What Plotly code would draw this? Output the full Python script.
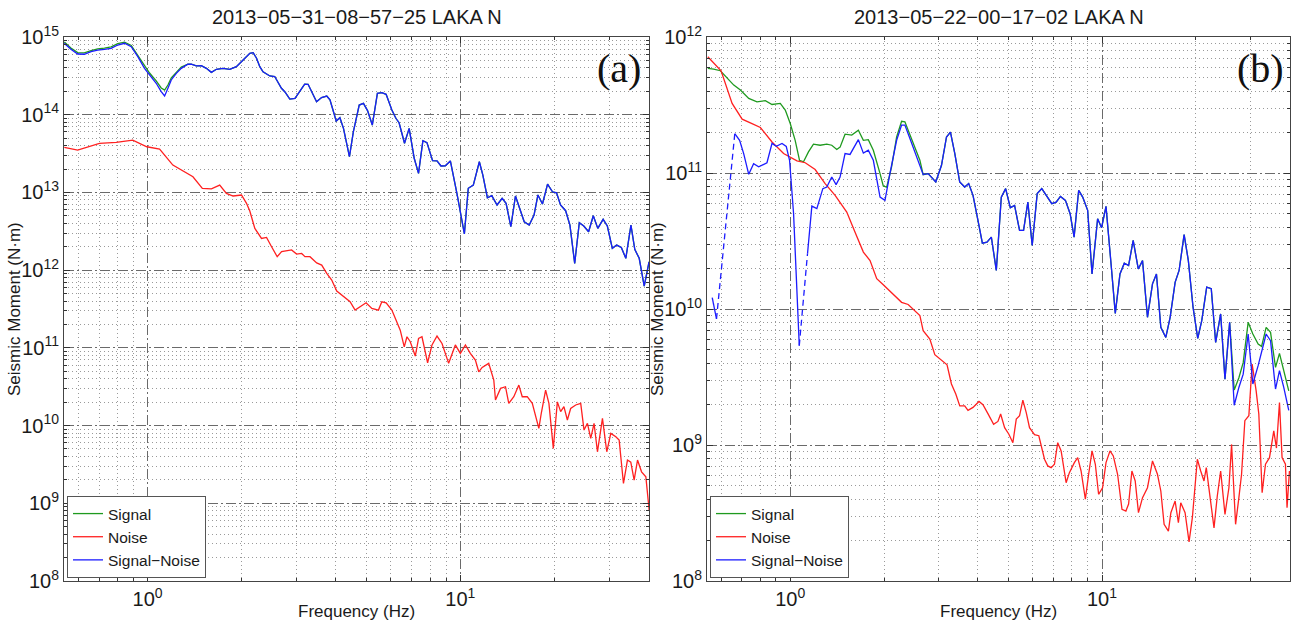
import plotly.graph_objects as go

# ---------------- Panel (a): 2013-05-31-08-57-25 LAKA N ----------------
freq_sn_a = [0.542, 0.569, 0.598, 0.628, 0.660, 0.693, 0.728, 0.765, 0.803, 0.844,
             0.887, 0.931, 0.978, 1.015, 1.066, 1.106, 1.134, 1.162, 1.191, 1.236,
             1.282, 1.346, 1.380, 1.432, 1.486, 1.542, 1.600, 1.660, 1.742, 1.832,
             1.923, 2.021, 2.123, 2.175, 2.229, 2.285, 2.34, 2.46, 2.55, 2.68,
             2.75, 2.85, 2.96, 3.18, 3.26, 3.47, 3.60, 3.74, 3.83, 4.01,
             4.12, 4.23, 4.42, 4.55, 4.75, 4.90, 5.05, 5.23, 5.43, 5.61,
             5.79, 6.04, 6.22, 6.37, 6.63, 6.86, 7.12, 7.35, 7.59, 7.82,
             8.15, 8.42, 8.67, 8.95, 9.29, 9.75, 10.3, 10.6, 11.0, 11.5,
             11.8, 12.2, 12.6, 13.1, 13.6, 14.0, 14.5, 15.0, 15.5, 16.0,
             16.6, 17.2, 17.7, 18.3, 19.0, 19.7, 20.3, 20.9, 21.7, 22.4,
             23.2, 24.0, 24.8, 25.7, 26.6, 27.5, 28.6, 29.5, 30.6, 31.6,
             32.7, 33.8, 35.1, 36.1, 37.3, 38.7, 40.1]
sn_a = [8.3e14, 6.95e14, 6.04e14, 6.0e14, 6.47e14, 6.8e14, 6.95e14, 7.16e14, 7.89e14, 8.3e14,
        7.5e14, 5.58e14, 3.95e14, 3.24e14, 2.54e14, 1.98e14, 1.74e14, 2.19e14, 2.80e14, 3.41e14,
        3.95e14, 4.46e14, 4.46e14, 4.24e14, 4.27e14, 3.95e14, 3.51e14, 3.84e14, 3.95e14, 3.84e14,
        4.15e14, 5.06e14, 6.17e14, 6.28e14, 5.37e14, 4.15e14, 3.57e14, 3.15e14, 3.1e14, 2.19e14,
        1.96e14, 1.59e14, 1.62e14, 2.48e14, 2.46e14, 1.47e14, 1.66e14, 1.74e14, 1.55e14, 8.3e13,
        9.15e13, 6.68e13, 2.88e13, 6.04e13, 1.33e14, 1.40e14, 1.13e14, 7.36e13, 1.88e14, 1.92e14,
        1.83e14, 1.15e14, 9.0e13, 7.89e13, 4.29e13, 6.68e13, 2.75e13, 1.76e13, 4.63e13, 4.37e13,
        2.56e13, 2.54e13, 2.19e13, 2.2e13, 2.54e13, 9.73e12, 2.92e12, 1.13e13, 1.24e13, 2.48e13,
        1.67e13, 8.55e12, 9.08e12, 6.89e12, 8.4e12, 7.24e12, 3.62e12, 9.0e12, 5.93e12, 4.2e12,
        3.8e12, 5.12e12, 9.27e12, 7.1e12, 1.28e13, 1.02e13, 9.9e12, 6.89e12, 5.82e12, 3.8e12,
        1.22e12, 4.07e12, 3.7e12, 3.12e12, 5.01e12, 3.45e12, 4.51e12, 3.7e12, 1.91e12, 2.1e12,
        1.96e12, 1.42e12, 3.8e12, 1.85e12, 1.42e12, 6.24e11, 1.28e12]

# Signal differs visibly from Signal-Noise only below ~1.3 Hz
sig_a_low = [8.6e14, 7.2e14, 6.3e14, 6.25e14, 6.7e14, 7.05e14, 7.2e14, 7.45e14, 8.2e14, 8.6e14,
             7.8e14, 5.8e14, 4.24e14, 3.44e14, 2.72e14, 2.21e14, 2.08e14, 2.41e14, 2.97e14, 3.55e14,
             4.1e14]
freq_sig_a = freq_sn_a
sig_a = sig_a_low + sn_a[len(sig_a_low):]

freq_noise_a = [0.542, 0.598, 0.702, 0.794, 0.897, 0.995, 1.093, 1.205, 1.397, 1.497,
                1.600, 1.701, 1.787, 1.877, 1.997, 2.072, 2.123, 2.203, 2.314, 2.401,
                2.492, 2.597, 2.683, 2.887, 2.996, 3.109, 3.186, 3.306, 3.473, 3.604,
                3.740, 3.880, 4.026, 4.227, 4.441, 4.608, 4.780, 4.996, 5.212, 5.472,
                5.610, 5.791, 6.040, 6.267, 6.424, 6.616, 6.750, 6.916, 7.176, 7.352,
                7.539, 7.858, 8.117, 8.421, 8.737, 9.174, 9.638, 10.0, 10.38, 10.76,
                11.17, 11.45, 11.74, 12.32, 12.79, 12.95, 13.44, 13.94, 14.28, 14.82,
                15.38, 15.77, 16.36, 16.98, 17.82, 18.14, 18.73, 19.19, 19.82, 20.42,
                20.92, 21.43, 21.98, 22.52, 23.37, 24.25, 24.85, 25.48, 26.11, 26.75,
                27.43, 28.46, 29.38, 30.26, 31.4, 32.18, 33.22, 34.21, 35.06, 35.93,
                36.84, 37.95, 39.17, 40.13]
noise_a = [3.80e13, 3.51e13, 4.29e13, 4.41e13, 4.72e13, 3.87e13, 3.62e13, 2.25e13, 1.59e13, 1.13e13,
           1.11e13, 1.24e13, 9.73e12, 9.0e12, 9.27e12, 7.24e12, 5.77e12, 3.45e12, 2.56e12, 2.64e12,
           2.0e12, 1.49e12, 1.73e12, 1.82e12, 1.61e12, 1.64e12, 1.49e12, 1.49e12, 1.24e12, 1.16e12,
           9.1e11, 7.46e11, 5.38e11, 4.55e11, 3.92e11, 3.06e11, 3.38e11, 3.80e11, 3.22e11, 3.06e11,
           3.92e11, 3.80e11, 3.06e11, 2.17e11, 1.69e11, 1.03e11, 1.39e11, 1.20e11, 7.84e10, 1.32e11,
           1.39e11, 6.43e10, 1.09e11, 1.42e11, 1.14e11, 6.32e10, 1.09e11, 8.49e10, 1.09e11, 8.49e10,
           6.97e10, 4.92e10, 5.61e10, 6.32e10, 3.85e10, 2.13e10, 3.01e10, 3.16e10, 1.93e10, 2.35e10,
           3.32e10, 2.35e10, 2.35e10, 1.93e10, 9.2e9, 1.44e10, 2.86e10, 1.93e10, 5.09e9, 2.02e10,
           1.51e10, 1.75e10, 1.18e10, 1.66e10, 1.84e10, 1.93e10, 8.75e9, 1.07e10, 6.84e9, 1.07e10,
           4.6e9, 1.24e10, 4.6e9, 7.94e9, 7.18e9, 6.5e9, 1.80e9, 3.6e9, 3.39e9, 1.99e9,
           3.6e9, 2.54e9, 2.19e9, 8.2e8]

# ---------------- Panel (b): 2013-05-22-00-17-02 LAKA N ----------------
freq_sn_b = [0.562, 0.580, 0.664, 0.688, 0.709, 0.736, 0.763, 0.792, 0.842, 0.874,
             0.902, 0.941, 0.971, 0.995, 1.025, 1.069, 1.136, 1.173, 1.217, 1.272,
             1.310, 1.359, 1.403, 1.445, 1.499, 1.555, 1.654, 1.716, 1.780, 1.847,
             1.941, 2.013, 2.088, 2.194, 2.276, 2.332, 2.432, 2.605, 2.669, 2.769,
             2.930, 3.056, 3.171, 3.265, 3.372, 3.496, 3.627, 3.736, 3.857, 4.002,
             4.133, 4.276, 4.416, 4.581, 4.753, 4.908, 5.080, 5.243, 5.439, 5.602,
             5.783, 5.972, 6.196, 6.410, 6.622, 6.901, 7.128, 7.356, 7.632, 7.902,
             8.137, 8.418, 8.670, 8.995, 9.290, 9.681, 9.97, 10.30, 10.69, 11.03,
             11.42, 11.79, 12.17, 12.59, 13.07, 13.49, 13.99, 14.52, 14.95, 15.44,
             16.02, 16.54, 17.16, 17.67, 18.34, 18.92, 19.59, 20.28, 20.89, 21.67,
             22.41, 23.15, 24.02, 24.80, 25.67, 26.55, 27.48, 28.37, 29.43, 30.47,
             31.68, 33.61, 34.72, 36.02, 37.09, 38.28, 39.72]
sn_b = [1.21e10, 8.45e9, 1.95e11, 1.74e11, 1.39e11, 9.78e10, 1.17e11, 1.11e11, 1.19e11, 1.65e11,
        1.57e11, 1.65e11, 1.57e11, 1.24e11, 5.02e10, 5.38e9, 2.55e10, 5.71e10, 5.47e10, 7.67e10,
        7.88e10, 9.34e10, 8.21e10, 9.34e10, 1.39e11, 1.37e11, 1.76e11, 1.40e11, 1.47e11, 1.24e11,
        6.65e10, 6.29e10, 9.9e10, 1.74e11, 2.25e11, 2.25e11, 1.74e11, 1.11e11, 9.73e10, 9.9e10,
        8.58e10, 1.14e11, 1.84e11, 2.0e11, 1.39e11, 8.58e10, 7.88e10, 8.36e10, 6.85e10, 4.48e10,
        3.05e10, 3.10e10, 3.38e10, 1.92e10, 6.65e10, 7.67e10, 5.56e10, 5.78e10, 3.78e10, 3.78e10,
        6.11e10, 2.93e10, 7.05e10, 7.67e10, 6.85e10, 5.95e10, 6.11e10, 6.73e10, 6.29e10, 5.02e10,
        3.38e10, 7.46e10, 6.65e10, 5.31e10, 1.81e10, 4.61e10, 3.96e10, 5.68e10, 2.15e10, 9.29e9,
        1.81e10, 2.17e10, 2.09e10, 3.19e10, 1.97e10, 2.27e10, 8.69e9, 1.53e10, 1.81e10, 7.33e9,
        6.18e9, 8.69e9, 1.57e10, 1.92e10, 3.52e10, 2.27e10, 1.03e10, 6.08e9, 8.21e9, 1.45e10,
        1.41e10, 5.68e9, 9.2e9, 3.05e9, 7.98e9, 1.96e9, 2.65e9, 3.32e9, 6.55e9, 2.81e9,
        3.83e9, 6.55e9, 5.85e9, 2.58e9, 3.52e9, 2.65e9, 1.80e9]
# segments of Signal-Noise drawn dashed (index pairs joined by a dashed line)
dashed_gaps_b = [1, 15]

freq_sig_b_low = [0.544, 0.568, 0.597, 0.627, 0.659, 0.692, 0.736, 0.782, 0.832, 0.874,
                  0.929, 0.964, 1.0, 1.037, 1.071, 1.103, 1.144, 1.187, 1.247, 1.310,
                  1.359, 1.410, 1.445, 1.499, 1.575, 1.654, 1.716, 1.780, 1.847, 1.941,
                  1.988, 2.039, 2.114, 2.194, 2.276, 2.332, 2.420, 2.605]
sig_b_low = [5.88e11, 5.81e11, 5.65e11, 4.96e11, 4.43e11, 4.07e11, 3.54e11, 3.34e11, 3.40e11, 3.19e11,
             3.25e11, 2.90e11, 2.31e11, 1.74e11, 1.24e11, 1.21e11, 1.43e11, 1.63e11, 1.60e11, 1.63e11,
             1.60e11, 1.49e11, 1.55e11, 1.93e11, 1.90e11, 2.06e11, 1.74e11, 1.76e11, 1.47e11, 9.9e10,
             8.02e10, 7.88e10, 1.11e11, 1.84e11, 2.40e11, 2.38e11, 1.90e11, 1.24e11]
freq_sig_b_high = [26.55, 27.48, 28.37, 29.43, 30.47, 31.68, 32.5, 33.61, 34.72, 36.02,
                   37.09, 38.28, 39.72]
sig_b_high = [2.54e9, 3.12e9, 4.03e9, 7.98e9, 6.55e9, 5.53e9, 5.31e9, 7.33e9, 6.73e9, 3.72e9,
              4.72e9, 3.52e9, 2.5e9]
freq_sig_b = freq_sig_b_low + freq_sn_b[38:105] + freq_sig_b_high
sig_b = sig_b_low + sn_b[38:105] + sig_b_high

freq_noise_b = [0.544, 0.600, 0.651, 0.701, 0.754, 0.802, 0.874, 0.952, 1.051, 1.117,
                1.202, 1.294, 1.393, 1.518, 1.614, 1.716, 1.803, 1.894, 1.988, 2.139,
                2.276, 2.389, 2.605, 2.669, 2.804, 2.909, 3.056, 3.184, 3.289, 3.396,
                3.498, 3.627, 3.717, 3.857, 4.031, 4.151, 4.306, 4.491, 4.636, 4.730,
                4.871, 5.027, 5.177, 5.309, 5.439, 5.573, 5.715, 5.854, 6.074, 6.271,
                6.540, 6.699, 6.869, 7.038, 7.211, 7.394, 7.672, 7.860, 8.154, 8.356,
                8.568, 8.843, 9.061, 9.290, 9.519, 9.752, 10.04, 10.30, 10.61, 10.87,
                11.22, 11.59, 11.93, 12.17, 12.47, 12.78, 13.09, 13.49, 13.99, 14.52,
                15.06, 15.44, 15.82, 16.33, 16.63, 17.16, 17.58, 17.89, 18.47, 19.02,
                19.49, 20.22, 20.73, 21.24, 21.60, 22.15, 22.87, 23.43, 24.02, 24.80,
                25.53, 26.04, 26.82, 27.48, 28.03, 28.72, 29.58, 30.31, 31.22, 31.84,
                32.63, 33.45, 34.45, 35.56, 36.27, 37.09, 37.81, 38.76, 39.22, 39.92]
noise_b = [7.16e11, 5.65e11, 3.25e11, 2.49e11, 2.31e11, 2.16e11, 1.69e11, 1.39e11, 1.23e11, 1.19e11,
           1.06e11, 8.36e10, 6.85e10, 5.16e10, 3.67e10, 2.62e10, 2.27e10, 1.67e10, 1.51e10, 1.29e10,
           1.12e10, 1.08e10, 8.94e9, 6.93e9, 6.02e9, 4.61e9, 4.22e9, 3.89e9, 2.81e9, 2.37e9,
           1.94e9, 1.94e9, 1.80e9, 1.89e9, 2.09e9, 1.98e9, 1.70e9, 1.42e9, 1.49e9, 1.69e9,
           1.34e9, 1.20e9, 1.04e9, 1.55e9, 1.64e9, 2.14e9, 1.73e9, 1.34e9, 1.19e9, 1.17e9,
           7.86e8, 7.02e8, 6.82e8, 7.22e8, 1.04e9, 9.05e8, 5.28e8, 6.26e8, 7.42e8, 8.07e8,
           6.44e8, 3.99e8, 6.09e8, 9.05e8, 7.22e8, 4.34e8, 4.85e8, 7.42e8, 9.05e8, 8.31e8,
           6.09e8, 3.37e8, 3.27e8, 3.68e8, 6.44e8, 5.44e8, 3.18e8, 4.10e8, 4.85e8, 7.63e8,
           6.09e8, 4.59e8, 2.61e8, 2.33e8, 3.18e8, 3.87e8, 2.68e8, 3.76e8, 3.18e8, 1.94e8,
           2.92e8, 7.86e8, 6.44e8, 5.44e8, 6.82e8, 4.34e8, 2.46e8, 4.22e8, 6.44e8, 3.09e8,
           4.85e8, 1.01e9, 2.61e8, 4.10e8, 6.09e8, 1.51e9, 1.64e9, 3.94e9, 2.50e9, 1.69e9,
           4.46e8, 7.22e8, 8.07e8, 1.27e9, 9.5e8, 2.05e9, 8.07e8, 7.22e8, 3.46e8, 6.44e8]

titles = ["2013\u221205\u221231\u221208\u221257\u221225 LAKA N",
          "2013\u221205\u221222\u221200\u221217\u221202 LAKA N"]
panel_tags = ["(a)", "(b)"]
series_names = ["Signal", "Noise", "Signal\u2212Noise"]
x_ticks = [1, 10]
x_ticktext = ["10<sup>0</sup>", "10<sup>1</sup>"]
x_minor = [0.6, 0.7, 0.8, 0.9, 2, 3, 4, 5, 6, 7, 8, 9, 20, 30, 40]
y_exp_a = list(range(8, 16))
y_exp_b = list(range(8, 13))

GREEN = "#1f9a1f"
RED = "#ff2020"
BLUE = "#1c1cff"
LW = 1.3
FONT = "Liberation Sans, Arial, Helvetica, sans-serif"
TXT = "#1a1a1a"

fig = go.Figure()

# ---- panel a traces
fig.add_trace(go.Scatter(x=freq_sig_a, y=sig_a, mode="lines", name=series_names[0],
                         line=dict(color=GREEN, width=LW), xaxis="x", yaxis="y", legend="legend"))
fig.add_trace(go.Scatter(x=freq_noise_a, y=noise_a, mode="lines", name=series_names[1],
                         line=dict(color=RED, width=LW), xaxis="x", yaxis="y", legend="legend"))
fig.add_trace(go.Scatter(x=freq_sn_a, y=sn_a, mode="lines", name=series_names[2],
                         line=dict(color=BLUE, width=LW), xaxis="x", yaxis="y", legend="legend"))

# ---- panel b traces
fig.add_trace(go.Scatter(x=freq_sig_b, y=sig_b, mode="lines", name=series_names[0],
                         line=dict(color=GREEN, width=LW), xaxis="x2", yaxis="y2", legend="legend2"))
fig.add_trace(go.Scatter(x=freq_noise_b, y=noise_b, mode="lines", name=series_names[1],
                         line=dict(color=RED, width=LW), xaxis="x2", yaxis="y2", legend="legend2"))

solid_x, solid_y = [], []
start = 0
for g in dashed_gaps_b:
    solid_x += freq_sn_b[start:g + 1] + [None]
    solid_y += sn_b[start:g + 1] + [None]
    start = g + 1
solid_x += freq_sn_b[start:]
solid_y += sn_b[start:]
dash_x, dash_y = [], []
for g in dashed_gaps_b:
    dash_x += freq_sn_b[g:g + 2] + [None]
    dash_y += sn_b[g:g + 2] + [None]

fig.add_trace(go.Scatter(x=dash_x, y=dash_y, mode="lines", showlegend=False,
                         line=dict(color=BLUE, width=LW, dash="6px,4px"), xaxis="x2", yaxis="y2",
                         connectgaps=False))
fig.add_trace(go.Scatter(x=solid_x, y=solid_y, mode="lines", name=series_names[2],
                         line=dict(color=BLUE, width=LW), xaxis="x2", yaxis="y2", legend="legend2",
                         connectgaps=False))

W, H = 1298, 629
MT = 37
MB = 629 - 581
PH = H - MT - MB


def px(x):
    return x / W


def py(y):
    return (H - MB - y) / PH


xa_dom = [px(64), px(649)]
xb_dom = [px(707), px(1290)]

MAJOR_DASH = "10px,3px,2px,3px"
MINOR_DASH = "1px,3px"

xcommon = dict(type="log", range=[-0.267, 1.603], tickmode="array", tickvals=x_ticks,
               ticktext=x_ticktext, ticks="inside", ticklen=6, tickcolor="#333",
               showline=True, linecolor="#444", linewidth=1, mirror="allticks",
               showgrid=True, gridcolor="#6a6a6a", griddash=MAJOR_DASH, gridwidth=1,
               zeroline=False, automargin=False,
               tickfont=dict(family=FONT, size=20, color=TXT),
               minor=dict(tickmode="array", tickvals=x_minor, ticks="inside", ticklen=3,
                          tickcolor="#333", showgrid=True, gridcolor="#9a9a9a",
                          griddash=MINOR_DASH, gridwidth=1))


def ycommon(exps):
    minor_vals = [m * 10 ** e for e in exps[:-1] for m in range(2, 10)]
    return dict(type="log", range=[exps[0], exps[-1]], tickmode="array",
                tickvals=[10 ** e for e in exps],
                ticktext=["10<sup>%d</sup>" % e for e in exps],
                ticks="inside", ticklen=6, tickcolor="#333",
                showline=True, linecolor="#444", linewidth=1, mirror="allticks",
                showgrid=True, gridcolor="#6a6a6a", griddash=MAJOR_DASH, gridwidth=1,
                zeroline=False, automargin=False,
                tickfont=dict(family=FONT, size=20, color=TXT),
                minor=dict(tickmode="array", tickvals=minor_vals, ticks="inside", ticklen=3,
                           tickcolor="#333", showgrid=True, gridcolor="#9a9a9a",
                           griddash=MINOR_DASH, gridwidth=1))


legend_common = dict(bgcolor="white", bordercolor="#555", borderwidth=1,
                     font=dict(family=FONT, size=15.5, color=TXT),
                     xanchor="left", yanchor="bottom", tracegroupgap=0,
                     itemwidth=30)

annotations = []
for i, (x0, x1) in enumerate([(64, 649), (707, 1290)]):
    cx = (x0 + x1) / 2
    annotations.append(dict(text=titles[i], x=px(cx), y=py(17), xref="paper", yref="paper",
                            showarrow=False, font=dict(family=FONT, size=20, color=TXT),
                            xanchor="center", yanchor="middle"))
    annotations.append(dict(text="Frequency (Hz)", x=px(cx), y=py(611), xref="paper",
                            yref="paper", showarrow=False,
                            font=dict(family=FONT, size=17, color=TXT),
                            xanchor="center", yanchor="middle"))
    annotations.append(dict(text=panel_tags[i], x=px(x1 - 30), y=py(68), xref="paper",
                            yref="paper", showarrow=False,
                            font=dict(family="Liberation Serif, Times New Roman, serif",
                                      size=40, color="#111"),
                            xanchor="center", yanchor="middle"))
    annotations.append(dict(text="Seismic Moment (N\u00b7m)", x=px(x0 - 50), y=py(309),
                            xref="paper", yref="paper", showarrow=False, textangle=-90,
                            font=dict(family=FONT, size=17, color=TXT),
                            xanchor="center", yanchor="middle"))

fig.update_layout(
    width=W, height=H,
    margin=dict(l=0, r=0, t=MT, b=MB),
    paper_bgcolor="white", plot_bgcolor="white",
    xaxis=dict(domain=xa_dom, anchor="y", **xcommon),
    yaxis=dict(domain=[0, 1], anchor="x", **ycommon(y_exp_a)),
    xaxis2=dict(domain=xb_dom, anchor="y2", **xcommon),
    yaxis2=dict(domain=[0, 1], anchor="x2", **ycommon(y_exp_b)),
    legend=dict(x=px(67), y=py(578), **legend_common),
    legend2=dict(x=px(710), y=py(578), **legend_common),
    annotations=annotations,
    showlegend=True,
)

# remove the browser's default page margin so the figure fills the window exactly
fig.write_html("out.html", config={"displayModeBar": False},
               post_script="document.body.style.margin='0px';"
                           "document.body.style.overflow='hidden';")
